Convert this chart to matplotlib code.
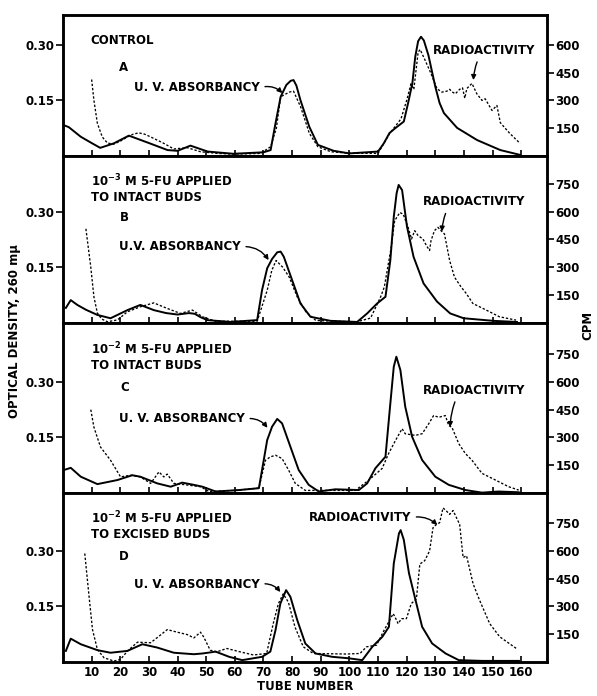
import numpy as np
import matplotlib
matplotlib.use("Agg")
import matplotlib.pyplot as plt

plt.rcParams['font.family'] = 'DejaVu Sans'
plt.rcParams['font.weight'] = 'bold'
plt.rcParams['mathtext.default'] = 'bf'

# ---- panel A : control ----
a_uv_x = [0, 2, 6.2, 10, 13, 17.7, 23, 30, 36.5, 40, 44.5, 50.5, 59.5, 70, 72.5, 74, 76, 78, 79.5, 80.5, 81.5,
          82.9, 86, 89, 94.5, 100, 110, 112, 114, 116, 119, 120.5, 122, 123, 124, 125, 126, 127.6, 130, 131.5,
          133, 137.6, 144.6, 152.7, 159.6]
a_uv_y = [0.084, 0.078, 0.052, 0.035, 0.022, 0.034, 0.055, 0.035, 0.016, 0.014, 0.028, 0.012, 0.006, 0.010,
          0.016, 0.080, 0.160, 0.192, 0.203, 0.205, 0.190, 0.151, 0.079, 0.030, 0.014, 0.007, 0.012, 0.034,
          0.062, 0.075, 0.093, 0.143, 0.197, 0.268, 0.310, 0.322, 0.312, 0.272, 0.187, 0.143, 0.116, 0.076,
          0.043, 0.016, 0.003]
a_ra_x = [10, 10.8, 12, 13.7, 15.5, 17.7, 20, 22.5, 24.5, 26.5, 28.5, 30.6, 35, 38.7, 43.4, 48, 54, 59.5, 69,
          72.5, 74.5, 76, 79, 80.5, 83, 86, 89, 93.5, 100, 110, 114, 118, 120, 121.5, 122.5, 124, 124.7, 126.5,
          128.3, 130.6, 132.3, 134, 135, 136, 137, 138.5, 139.5, 140.3, 141, 142.8, 144.5, 146.3, 147.4, 149.8,
          151.5, 152.7, 154, 156, 159.6]
a_ra_y = [413, 300, 177, 103, 70, 64, 80, 103, 118, 125, 118, 103, 70, 38, 45, 23, 14, 10, 14, 50, 150, 320,
          345, 350, 264, 123, 50, 23, 15, 14, 120, 200, 300, 390, 360, 560, 575, 515, 452, 363, 345, 350, 360,
          345, 336, 360, 368, 312, 364, 392, 336, 300, 309, 246, 273, 180, 157, 122, 68]

# ---- panel B : 1e-3 M, intact buds ----
b_uv_x = [1, 2.7, 5, 8, 12, 16.6, 22.5, 27, 31.7, 36, 40, 44, 46, 48, 50.4, 58.5, 67.8, 69.5, 71.3, 73, 74.8,
          76, 77.1, 80, 82.9, 86.4, 93.4, 102.7, 106.2, 109.7, 112.6, 114.3, 115.5, 116.5, 117.2, 118.4, 120.1,
          122.4, 125.9, 130.6, 135.2, 139.9, 150.3, 158.5]
b_uv_y = [0.040, 0.061, 0.048, 0.035, 0.021, 0.012, 0.034, 0.048, 0.034, 0.026, 0.022, 0.026, 0.024, 0.015,
          0.007, 0.002, 0.007, 0.088, 0.147, 0.172, 0.190, 0.192, 0.178, 0.115, 0.052, 0.016, 0.005, 0.002,
          0.025, 0.052, 0.070, 0.169, 0.286, 0.350, 0.372, 0.358, 0.260, 0.178, 0.106, 0.057, 0.025, 0.012,
          0.005, 0.002]
b_ra_x = [8, 9.7, 10.8, 12, 13.5, 15.5, 19, 22.5, 27, 31.7, 36.4, 41, 45.2, 48.7, 53.3, 60, 67.8, 71.3, 72.9,
          74.4, 76.7, 79, 81.8, 84.8, 88.3, 95, 102.7, 107.4, 110.9, 112.2, 114.6, 115.8, 117.6, 118.8, 120.5,
          121.7, 122.8, 124, 125.7, 126.9, 128, 128.5, 129.7, 130.9, 132, 133.2, 135, 136.7, 139, 140.8, 143.1,
          147.8, 152.4, 158.2]
b_ra_y = [507, 300, 139, 52, 20, 5, 15, 59, 86, 107, 77, 50, 68, 32, 8, 8, 8, 175, 282, 336, 300, 246, 139, 59,
          12, 8, 5, 25, 139, 193, 407, 550, 595, 586, 515, 452, 497, 470, 452, 416, 390, 443, 497, 515, 497, 479,
          336, 246, 193, 158, 104, 68, 32, 14]

# ---- panel C : 1e-2 M, intact buds ----
c_uv_x = [0.3, 2.7, 6.2, 12, 19, 24.2, 27, 32.9, 37.6, 41.6, 45.7, 48.7, 53.3, 61.5, 68.4, 69.5, 71.3, 73,
          74.8, 76.5, 79.4, 82.3, 85.8, 89.3, 95.1, 103.3, 106.2, 109.1, 112.6, 114.3, 115.5, 116.4, 117.8,
          119.5, 121.9, 125.4, 130, 134.7, 140.5, 146.3, 152.1, 159.1]
c_uv_y = [0.062, 0.068, 0.044, 0.024, 0.035, 0.048, 0.044, 0.026, 0.017, 0.028, 0.022, 0.017, 0.004, 0.008,
          0.013, 0.062, 0.143, 0.179, 0.200, 0.188, 0.125, 0.062, 0.022, 0.004, 0.010, 0.008, 0.026, 0.067,
          0.098, 0.242, 0.341, 0.368, 0.332, 0.233, 0.152, 0.089, 0.044, 0.022, 0.008, 0.001, 0.004, 0.002]
c_ra_x = [9.7, 10.8, 13.1, 16.6, 20.1, 23.6, 27, 30.6, 33.5, 35.2, 36.4, 38.7, 43.4, 48, 51, 60.4, 68.4, 70.7,
          72.4, 74.2, 76.5, 78.8, 81.1, 84.6, 95.1, 102.1, 106.8, 111.4, 113.7, 116.1, 118.4, 119.5, 123, 125.4,
          127.7, 129.4, 131.2, 133.5, 134.7, 135.8, 138.2, 140.5, 142.8, 146.3, 151, 155.6, 159.1]
c_ra_y = [450, 355, 248, 177, 87, 96, 87, 52, 114, 87, 102, 52, 43, 34, 8, 14, 27, 177, 195, 204, 186, 123, 52,
          14, 14, 14, 70, 132, 213, 284, 347, 320, 311, 320, 374, 418, 409, 418, 364, 355, 266, 213, 177, 106,
          70, 34, 16]

# ---- panel D : 1e-2 M, excised buds ----
d_uv_x = [1, 2.7, 6.2, 12, 16.6, 22.5, 27.7, 32.9, 38.7, 45.7, 48.7, 53.3, 58, 62.6, 69.5, 72.4, 74.2, 75.9,
          77.9, 79.4, 81.8, 84.6, 88.2, 94, 99.8, 104.5, 108, 111.5, 113.8, 115.5, 117.3, 117.9, 119, 120.8,
          123.1, 125.4, 128.9, 133.6, 138.2, 146.4, 159.2]
d_uv_y = [0.030, 0.063, 0.048, 0.032, 0.025, 0.030, 0.048, 0.039, 0.025, 0.021, 0.023, 0.028, 0.014, 0.005,
          0.014, 0.028, 0.086, 0.158, 0.194, 0.176, 0.113, 0.050, 0.023, 0.014, 0.010, 0.005, 0.041, 0.068,
          0.095, 0.266, 0.347, 0.356, 0.330, 0.240, 0.167, 0.095, 0.050, 0.023, 0.005, 0.003, 0.003]
d_ra_x = [7.6, 9.1, 10.3, 12, 14.3, 17.8, 20.1, 22.5, 26, 30.6, 33.5, 36.4, 39.9, 43.4, 45.7, 48, 49.1, 51.4,
          53.7, 57.2, 61.8, 66.5, 71.1, 73.4, 75.2, 76.9, 78.7, 81, 83.9, 87.4, 99, 103.7, 106, 109.5, 111.8,
          115.3, 116.5, 117, 118.2, 119.9, 121.6, 123.4, 124.6, 126.3, 128, 129.2, 130.4, 131.5, 132.7, 133.9,
          135, 136.2, 138.5, 139.7, 140.9, 143.2, 145.5, 149, 152.5, 158.3]
d_ra_y = [586, 354, 175, 68, 23, 5, 14, 59, 107, 104, 139, 175, 161, 148, 130, 161, 136, 64, 55, 73, 55, 38,
          46, 207, 315, 368, 323, 189, 82, 46, 43, 46, 82, 91, 162, 261, 225, 207, 234, 234, 315, 341, 529, 547,
          600, 725, 743, 752, 832, 815, 797, 818, 743, 564, 574, 422, 332, 207, 136, 73]

uv_x = [a_uv_x, b_uv_x, c_uv_x, d_uv_x]
uv_y = [a_uv_y, b_uv_y, c_uv_y, d_uv_y]
ra_x = [a_ra_x, b_ra_x, c_ra_x, d_ra_x]
ra_y = [a_ra_y, b_ra_y, c_ra_y, d_ra_y]

titles = ["CONTROL",
          "10$^{-3}$ M 5-FU APPLIED\nTO INTACT BUDS",
          "10$^{-2}$ M 5-FU APPLIED\nTO INTACT BUDS",
          "10$^{-2}$ M 5-FU APPLIED\nTO EXCISED BUDS"]
letters = ["A", "B", "C", "D"]
uv_labels = ["U. V. ABSORBANCY", "U.V. ABSORBANCY", "U. V. ABSORBANCY", "U. V. ABSORBANCY"]
od_ticks = [0.15, 0.30]
cpm_ticks = [[150, 300, 450, 600], [150, 300, 450, 600, 750],
             [150, 300, 450, 600, 750], [150, 300, 450, 600, 750]]
tube_ticks = list(range(10, 161, 10))

# layout (pixels of a 597 x 696 image)
W, H = 597, 696
x0, x1 = 63, 547
edges = [15, 156, 322.7, 493, 662]
od_per_px = 0.0027
FS = 8.5

fig = plt.figure(figsize=(W / 100, H / 100), dpi=100)

# text placement per panel (tube, OD)
title_pos = [(9.7, 0.313), (9.7, 0.362), (9.7, 0.369), (9.7, 0.368)]
letter_pos = [(19.5, 0.238), (20, 0.283), (20, 0.286), (19.5, 0.2835)]
uv_txt = [(24.7, 0.184), (19.5, 0.205), (19.5, 0.200), (24.7, 0.210)]
uv_tip = [(76.6, 0.170), (71.8, 0.169), (71.4, 0.176), (75.9, 0.189)]
ra_txt = [(129.3, 0.286), (125.8, 0.327), (125.8, 0.278), (85.7, 0.390)]
ra_tip = [(143.3, 0.205), (132.3, 0.246), (135.2, 0.178), (130.7, 0.370)]
ra_rel = [(0.45, 0.0), (0.24, 0.0), (0.33, 0.0), (1.0, 0.5)]
ra_rad = [0.1, 0.1, 0.1, -0.25]

for i in range(4):
    top, bot = edges[i], edges[i + 1]
    ax = fig.add_axes([x0 / W, 1 - bot / H, (x1 - x0) / W, (bot - top) / H])
    od_max = (bot - top) * od_per_px
    ax.plot(uv_x[i], uv_y[i], color='k', lw=1.4, solid_joinstyle='round')
    ax2 = ax.twinx()
    ax2.plot(ra_x[i], ra_y[i], color='k', lw=0.95, ls=(0, (1.8, 1.4)))
    ax.set_xlim(0, 169)
    ax.set_ylim(0, od_max)
    ax2.set_ylim(0, od_max * 2000)

    ax.set_xticks(tube_ticks)
    ax.tick_params(axis='x', direction='in', length=4, width=1.2, labelsize=FS, pad=3)
    if i < 3:
        ax.tick_params(axis='x', labelbottom=False)
    ax.set_yticks(od_ticks)
    ax.set_yticklabels(["%.2f" % v for v in od_ticks])
    ax.tick_params(axis='y', direction='out', length=5, width=1.2, labelsize=FS, pad=1)
    ax2.set_yticks(cpm_ticks[i])
    ax2.tick_params(axis='y', direction='out', length=5, width=1.2, labelsize=FS, pad=1)
    for a in (ax, ax2):
        for s in a.spines.values():
            s.set_linewidth(1.8)

    ax.text(title_pos[i][0], title_pos[i][1], titles[i], fontsize=FS, fontweight='bold',
            ha='left', va='center', linespacing=1.15)
    ax.text(letter_pos[i][0], letter_pos[i][1], letters[i], fontsize=FS, fontweight='bold',
            ha='left', va='center')
    ax.annotate(uv_labels[i], xy=uv_tip[i], xytext=uv_txt[i], fontsize=FS, fontweight='bold',
                ha='left', va='center',
                arrowprops=dict(arrowstyle='-|>', color='k', lw=1.0, mutation_scale=7,
                                shrinkA=2, shrinkB=0, relpos=(1.0, 0.5),
                                connectionstyle='arc3,rad=-0.3'))
    ax.annotate("RADIOACTIVITY", xy=ra_tip[i], xytext=ra_txt[i], fontsize=FS, fontweight='bold',
                ha='left', va='center',
                arrowprops=dict(arrowstyle='-|>', color='k', lw=1.0, mutation_scale=7,
                                shrinkA=2, shrinkB=0, relpos=ra_rel[i],
                                connectionstyle='arc3,rad=%.2f' % ra_rad[i]))

fig.text(15 / W, 1 - 331 / H, "OPTICAL DENSITY, 260 m\u03bc", rotation=90, fontsize=FS,
         fontweight='bold', ha='center', va='center')
fig.text(588 / W, 1 - 325 / H, "CPM", rotation=90, fontsize=FS, fontweight='bold',
         ha='center', va='center')
fig.text((x0 + x1) / 2 / W, 1 - 686 / H, "TUBE NUMBER", fontsize=FS, fontweight='bold',
         ha='center', va='center')

fig.savefig("out.png", dpi=100)
